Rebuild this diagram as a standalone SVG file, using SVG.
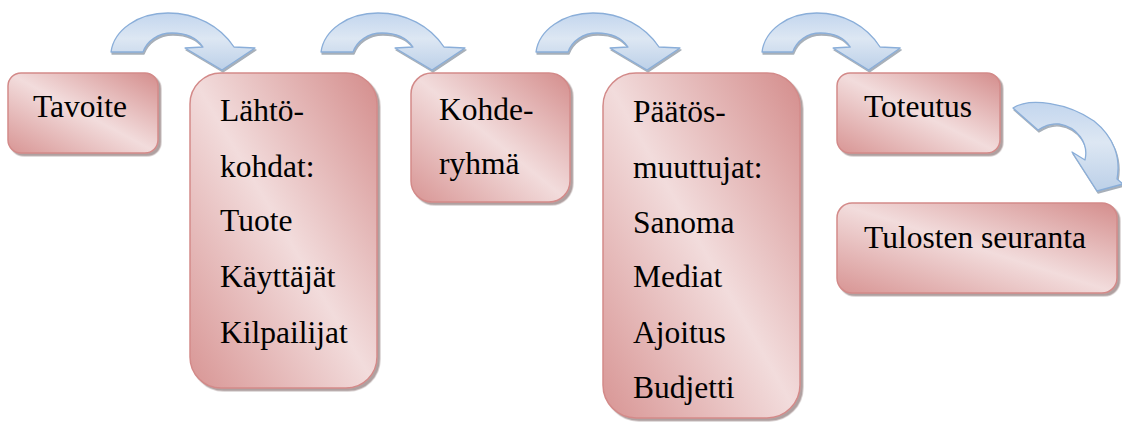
<svg xmlns="http://www.w3.org/2000/svg" width="1122" height="425" viewBox="0 0 1122 425">
  <defs>
    <!-- pink "moderate effect" fill for the process boxes -->
    <linearGradient id="boxFill" x1="1" y1="0" x2="0" y2="1">
      <stop offset="0" stop-color="#d48d8c"/>
      <stop offset="0.5" stop-color="#f2dcdc"/>
      <stop offset="1" stop-color="#d89594"/>
    </linearGradient>
    <!-- pale blue fill for the curved arrows -->
    <linearGradient id="arrowFill" x1="0" y1="0" x2="0" y2="1">
      <stop offset="0" stop-color="#c3d6ee"/>
      <stop offset="0.45" stop-color="#dde7f3"/>
      <stop offset="1" stop-color="#bcd0e8"/>
    </linearGradient>
    <filter id="shadow" x="-10%" y="-10%" width="125%" height="125%">
      <feDropShadow dx="2.5" dy="2.5" stdDeviation="0.7" flood-color="#7a6060" flood-opacity="0.6"/>
    </filter>
    <filter id="arrowShadow" x="-10%" y="-10%" width="125%" height="130%">
      <feDropShadow dx="1" dy="2" stdDeviation="0.6" flood-color="#6d7a8a" flood-opacity="0.6"/>
    </filter>
    <!-- shared curved arrow outline: tail on the left, head pointing down-right -->
    <path id="curvedArrow" d="M111,52 C114,30 138,13 168,13 C196,13 220,26 234,47 L255,48 L222,70 L185,48 L203,47 C196,37 186,33 172,33 C158,33 147,41 143,52 Z"/>
  </defs>
  <style>
    .box { fill: url(#boxFill); stroke: #d38a89; stroke-width: 1.5; filter: url(#shadow); }
    .arrow { fill: url(#arrowFill); stroke: #8aaed9; stroke-width: 1.3; stroke-linejoin: round; filter: url(#arrowShadow); }
    .label { font-family: "Liberation Serif", "Times New Roman", serif; font-size: 31.5px; fill: #000; }
  </style>

  <rect width="1122" height="425" fill="#ffffff"/>

  <g id="connectors">
    <use href="#curvedArrow" class="arrow"/>
    <use href="#curvedArrow" class="arrow" transform="translate(210,0)"/>
    <use href="#curvedArrow" class="arrow" transform="translate(425,0)"/>
    <use href="#curvedArrow" class="arrow" transform="translate(651,0) translate(111,0) scale(0.96,1) translate(-111,0)"/>
    <path class="arrow" d="M1013,108 C1030,97 1068,103 1094,121 C1114,137 1121,158 1117,179 L1123,184 L1097,191 L1072,152 L1085,160 C1089,143 1077,127 1059,124 C1051,123 1044,126 1038,130 Z"/>
  </g>

  <g id="tavoite">
    <rect class="box" x="8" y="73" width="150" height="80" rx="13"/>
    <text class="label" x="33" y="117">Tavoite</text>
  </g>

  <g id="lahtokohdat">
    <rect class="box" x="190" y="73" width="187" height="315" rx="31"/>
    <text class="label" x="220" y="121">Lähtö-</text>
    <text class="label" x="220" y="177">kohdat:</text>
    <text class="label" x="220" y="231">Tuote</text>
    <text class="label" x="220" y="287">Käyttäjät</text>
    <text class="label" x="220" y="343">Kilpailijat</text>
  </g>

  <g id="kohderyhma">
    <rect class="box" x="411" y="73" width="159" height="129" rx="21"/>
    <text class="label" x="439" y="120">Kohde-</text>
    <text class="label" x="439" y="174">ryhmä</text>
  </g>

  <g id="paatosmuuttujat">
    <rect class="box" x="603" y="73" width="197" height="345" rx="33"/>
    <text class="label" x="633" y="122">Päätös-</text>
    <text class="label" x="633" y="178">muuttujat:</text>
    <text class="label" x="633" y="233">Sanoma</text>
    <text class="label" x="633" y="287">Mediat</text>
    <text class="label" x="633" y="343">Ajoitus</text>
    <text class="label" x="633" y="398">Budjetti</text>
  </g>

  <g id="toteutus">
    <rect class="box" x="837" y="73" width="163" height="80" rx="13"/>
    <text class="label" x="864" y="117">Toteutus</text>
  </g>

  <g id="tulosten-seuranta">
    <rect class="box" x="837" y="203" width="280" height="90" rx="15"/>
    <text class="label" x="864" y="248">Tulosten seuranta</text>
  </g>
</svg>
